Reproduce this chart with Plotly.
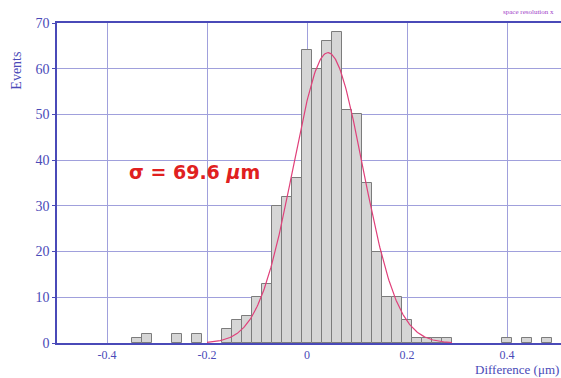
import plotly.graph_objects as go
import numpy as np

# Histogram data (bin centers in μm, counts)
bin_centers = [-0.34, -0.32, -0.26, -0.22, -0.16, -0.14, -0.12, -0.10, -0.08, -0.06,
               -0.04, -0.02, 0.00, 0.02, 0.04, 0.06, 0.08, 0.10, 0.12, 0.14,
               0.16, 0.18, 0.20, 0.22, 0.24, 0.26, 0.28, 0.40, 0.44, 0.48]
counts = [1, 2, 2, 2, 3, 5, 6, 10, 13, 30,
          32, 36, 64, 60, 66, 68, 51, 50, 35, 20,
          10, 10, 5, 1, 1, 1, 1, 1, 1, 1]
bin_width = 0.02

# Gaussian fit parameters
fit_amp = 63.5
fit_mean = 0.042
fit_sigma = 0.0696
fit_x = np.linspace(-0.2, 0.29, 300)
fit_y = fit_amp * np.exp(-(fit_x - fit_mean) ** 2 / (2 * fit_sigma ** 2))

x_ticks = [-0.4, -0.2, 0, 0.2, 0.4]
x_ticklabels = ["-0.4", "-0.2", "0", "0.2", "0.4"]
y_ticks = [0, 10, 20, 30, 40, 50, 60, 70]

axis_blue = "#4a4ab8"
grid_blue = "#a0a0dc"
font_serif = "Liberation Serif"

fig = go.Figure()
fig.add_trace(go.Bar(
    x=bin_centers, y=counts, width=bin_width,
    marker=dict(color="#d6d6d6", line=dict(color="#7c7c7c", width=1)),
    showlegend=False,
))
fig.add_trace(go.Scatter(
    x=fit_x, y=fit_y, mode="lines",
    line=dict(color="#e0407a", width=1.2),
    showlegend=False,
))

fig.update_layout(
    width=561, height=378,
    margin=dict(l=57, r=0, t=23, b=35),
    paper_bgcolor="white", plot_bgcolor="white",
    bargap=0,
    xaxis=dict(
        range=[-0.5, 0.508], tickvals=x_ticks, ticktext=x_ticklabels,
        showgrid=True, gridcolor=grid_blue, gridwidth=1,
        zeroline=False, showline=True, linecolor=axis_blue, linewidth=1.5,
        mirror=True, ticks="",
        tickfont=dict(family=font_serif, size=12, color=axis_blue),
    ),
    yaxis=dict(
        range=[0, 70], tickvals=y_ticks,
        showgrid=True, gridcolor=grid_blue, gridwidth=1,
        zeroline=False, showline=True, linecolor=axis_blue, linewidth=1.5,
        mirror=False, ticks="outside", ticklen=3, tickcolor=axis_blue,
        tickfont=dict(family=font_serif, size=14, color=axis_blue),
    ),
    annotations=[
        dict(text="Events", xref="paper", yref="paper", x=-0.082, y=0.85,
             xanchor="center", yanchor="middle",
             textangle=-90, showarrow=False,
             font=dict(family=font_serif, size=14, color=axis_blue)),
        dict(text="Difference (μm)", xref="paper", yref="paper", x=0.998, y=-0.1094,
             xanchor="right", yanchor="bottom", showarrow=False, borderpad=0,
             font=dict(family=font_serif, size=13, color=axis_blue)),
        dict(text="space resolution x", xref="paper", yref="paper", x=0.99, y=1.015,
             xanchor="right", yanchor="bottom", showarrow=False,
             font=dict(family=font_serif, size=7, color="#a040c8")),
        dict(text="<b>σ = 69.6 <i>μ</i>m</b>", xref="x", yref="y", x=-0.225, y=37.5,
             showarrow=False,
             font=dict(family="DejaVu Sans", size=19, color="#e02020")),
    ],
)

fig.write_html("out.html")
